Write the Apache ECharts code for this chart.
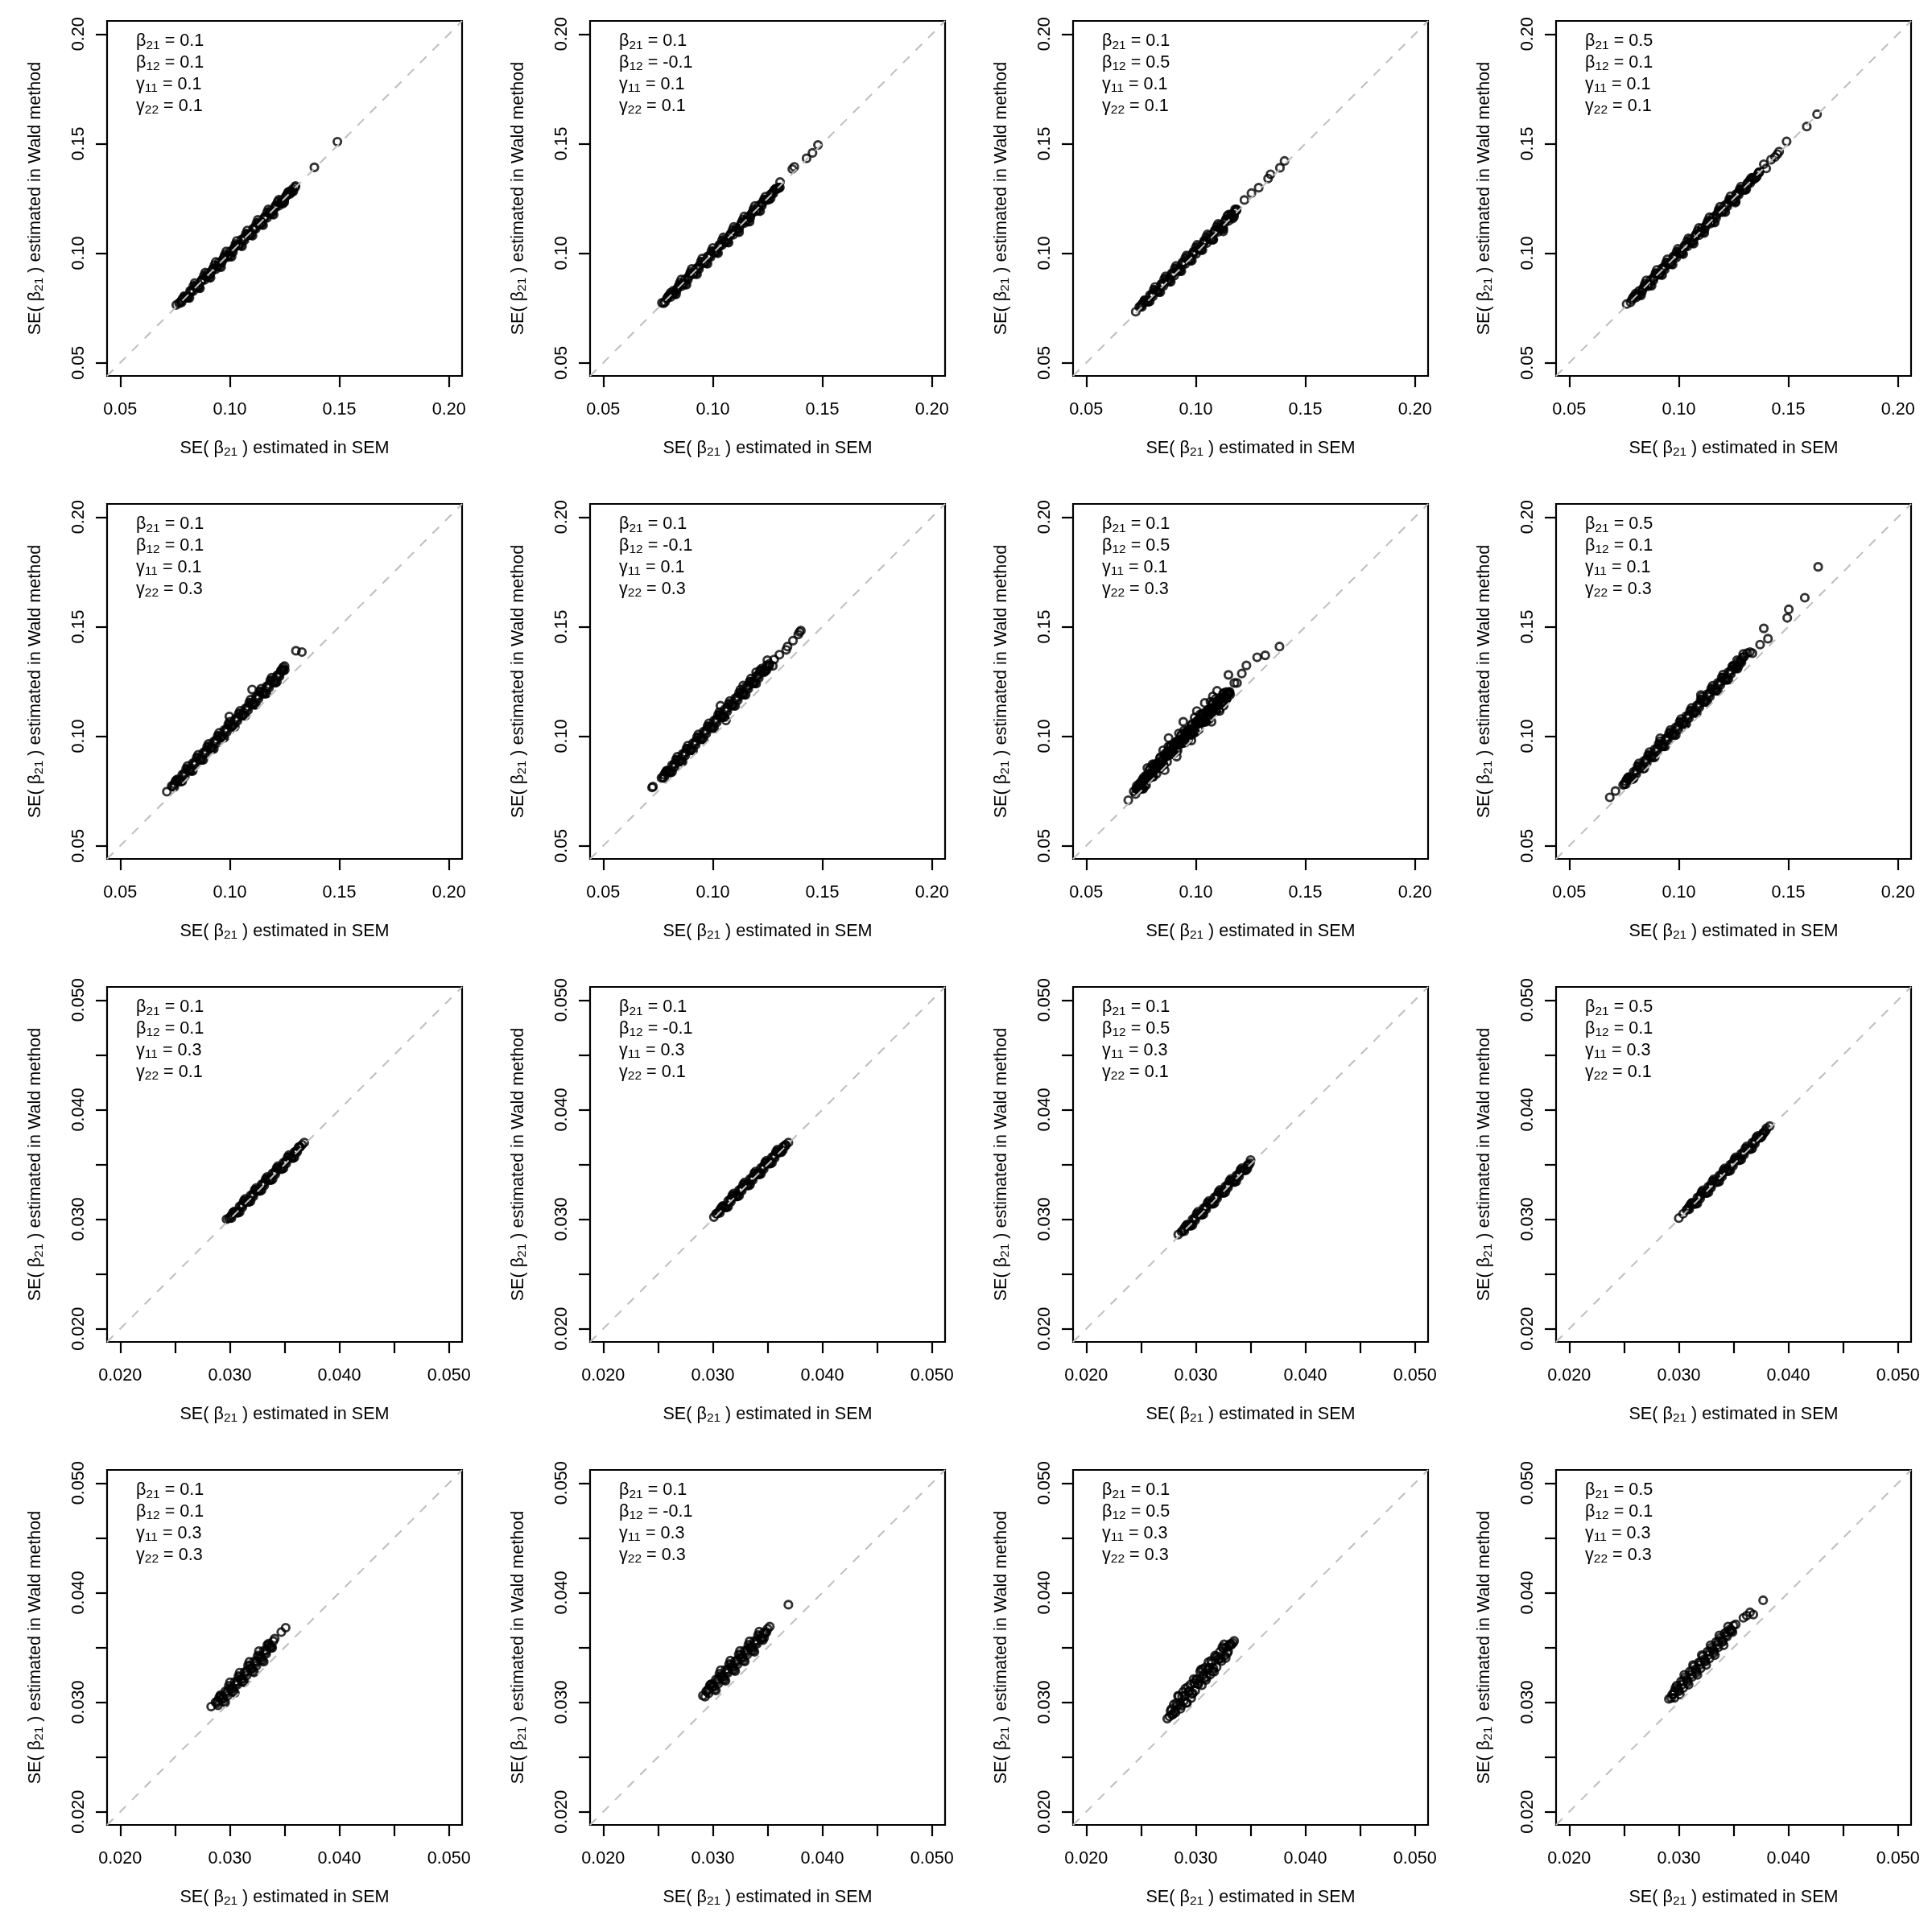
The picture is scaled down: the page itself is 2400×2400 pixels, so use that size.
<!DOCTYPE html>
<html><head><meta charset="utf-8">
<script src="https://cdn.jsdelivr.net/npm/echarts@6/dist/echarts.min.js"></script>
<style>html,body{margin:0;padding:0;background:#fff}#c{width:2400px;height:2400px}</style>
</head><body><div id="c"></div>
<script>
// ---------- parameters shown in each panel ----------
const beta21 = ['0.1', '0.1', '0.1', '0.5'];    // by column
const beta12 = ['0.1', '-0.1', '0.5', '0.1'];   // by column
const gamma11 = ['0.1', '0.1', '0.3', '0.3'];   // by row
const gamma22 = ['0.1', '0.3', '0.1', '0.3'];   // by row

// ---------- axis ranges and ticks ----------
const rangeWide = [0.044, 0.206];
const rangeNarrow = [0.0188, 0.0512];
const tickLabelsWide = [0.05, 0.10, 0.15, 0.20];
const tickMarksWide = [0.05, 0.10, 0.15, 0.20];
const tickLabelsNarrow = [0.020, 0.030, 0.040, 0.050];
const tickMarksNarrow = [0.020, 0.025, 0.030, 0.035, 0.040, 0.045, 0.050];

// ---------- data: [SE in SEM, SE in Wald] ----------
const p11 = [[0.0756,0.0764],[0.0768,0.0772],[0.0780,0.0775],[0.0794,0.0801],[0.0807,0.0799],[0.0819,0.0828],[0.0833,0.0827],[0.0846,0.0854],[0.0858,0.0849],[0.0872,0.0878],[0.0885,0.0878],[0.0897,0.0906],[0.0911,0.0903],[0.0924,0.0929],[0.0936,0.0927],[0.0950,0.0958],[0.0963,0.0957],[0.0975,0.0984],[0.0989,0.0982],[0.1002,0.1008],[0.1014,0.1005],[0.1028,0.1036],[0.1041,0.1036],[0.1053,0.1062],[0.1067,0.1059],[0.1080,0.1087],[0.1092,0.1083],[0.1106,0.1112],[0.1119,0.1112],[0.1131,0.1140],[0.1145,0.1137],[0.1158,0.1163],[0.1170,0.1161],[0.1184,0.1192],[0.1197,0.1191],[0.1209,0.1218],[0.1223,0.1216],[0.1236,0.1242],[0.1248,0.1240],[0.1262,0.1269],[0.1275,0.1270],[0.1287,0.1293],[0.1298,0.1301],[0.1300,0.1307],[0.1386,0.1392],[0.1491,0.1509]];
const e11 = [[0.0774,0.0776],[0.0798,0.0797],[0.0822,0.0823],[0.0846,0.0844],[0.0870,0.0872],[0.0894,0.0893],[0.0918,0.0919],[0.0942,0.0940],[0.0966,0.0968],[0.0990,0.0989],[0.1014,0.1015],[0.1038,0.1036],[0.1062,0.1064],[0.1086,0.1085],[0.1110,0.1111],[0.1134,0.1132],[0.1158,0.1160],[0.1182,0.1181],[0.1206,0.1207],[0.1230,0.1228],[0.1254,0.1256],[0.1278,0.1277],[0.0786,0.0794],[0.0810,0.0797],[0.0834,0.0850],[0.0858,0.0842],[0.0882,0.0898],[0.0906,0.0890],[0.0930,0.0946],[0.0954,0.0938],[0.0978,0.0994],[0.1002,0.0986],[0.1026,0.1042],[0.1050,0.1034],[0.1074,0.1090],[0.1098,0.1082],[0.1122,0.1138],[0.1146,0.1130],[0.1170,0.1186],[0.1194,0.1178],[0.1218,0.1234],[0.1242,0.1226],[0.1266,0.1278],[0.1290,0.1282]];
const f11 = [[0.0780,0.0785],[0.0804,0.0799],[0.0828,0.0833],[0.0852,0.0847],[0.0876,0.0881],[0.0900,0.0895],[0.0924,0.0929],[0.0948,0.0943],[0.0972,0.0977],[0.0996,0.0991],[0.1020,0.1025],[0.1044,0.1039],[0.1068,0.1073],[0.1092,0.1087],[0.1116,0.1121],[0.1140,0.1135],[0.1164,0.1169],[0.1188,0.1183],[0.1212,0.1217],[0.1236,0.1231],[0.1260,0.1265],[0.1284,0.1280],[0.0792,0.0804],[0.0816,0.0796],[0.0840,0.0864],[0.0864,0.0840],[0.0888,0.0912],[0.0912,0.0888],[0.0936,0.0960],[0.0960,0.0936],[0.0984,0.1008],[0.1008,0.0984],[0.1032,0.1056],[0.1056,0.1032],[0.1080,0.1104],[0.1104,0.1080],[0.1128,0.1152],[0.1152,0.1128],[0.1176,0.1200],[0.1200,0.1176],[0.1224,0.1244],[0.1248,0.1232],[0.1272,0.1282]];
const p12 = [[0.0768,0.0774],[0.0776,0.0772],[0.0782,0.0777],[0.0795,0.0801],[0.0808,0.0800],[0.0820,0.0829],[0.0834,0.0828],[0.0847,0.0855],[0.0859,0.0850],[0.0873,0.0880],[0.0886,0.0879],[0.0898,0.0907],[0.0912,0.0904],[0.0925,0.0931],[0.0937,0.0928],[0.0951,0.0959],[0.0964,0.0958],[0.0976,0.0985],[0.0990,0.0983],[0.1003,0.1010],[0.1015,0.1006],[0.1029,0.1037],[0.1042,0.1037],[0.1054,0.1063],[0.1068,0.1060],[0.1081,0.1088],[0.1093,0.1084],[0.1107,0.1113],[0.1120,0.1113],[0.1132,0.1141],[0.1146,0.1138],[0.1159,0.1164],[0.1171,0.1162],[0.1185,0.1193],[0.1198,0.1192],[0.1210,0.1218],[0.1224,0.1217],[0.1237,0.1243],[0.1249,0.1243],[0.1263,0.1268],[0.1276,0.1272],[0.1288,0.1293],[0.1302,0.1299],[0.1307,0.1325],[0.1363,0.1384],[0.1372,0.1394],[0.1428,0.1433],[0.1455,0.1458],[0.1480,0.1494]];
const e12 = [[0.0790,0.0792],[0.0814,0.0813],[0.0838,0.0839],[0.0862,0.0860],[0.0886,0.0888],[0.0910,0.0909],[0.0934,0.0935],[0.0958,0.0956],[0.0982,0.0984],[0.1006,0.1005],[0.1030,0.1031],[0.1054,0.1052],[0.1078,0.1080],[0.1102,0.1101],[0.1126,0.1127],[0.1150,0.1148],[0.1174,0.1176],[0.1198,0.1197],[0.1222,0.1223],[0.1246,0.1244],[0.1270,0.1272],[0.1294,0.1293],[0.0802,0.0810],[0.0826,0.0813],[0.0850,0.0866],[0.0874,0.0858],[0.0898,0.0914],[0.0922,0.0906],[0.0946,0.0962],[0.0970,0.0954],[0.0994,0.1010],[0.1018,0.1002],[0.1042,0.1058],[0.1066,0.1050],[0.1090,0.1106],[0.1114,0.1098],[0.1138,0.1154],[0.1162,0.1146],[0.1186,0.1202],[0.1210,0.1194],[0.1234,0.1246],[0.1258,0.1246],[0.1282,0.1290],[0.1306,0.1300]];
const f12 = [[0.0796,0.0801],[0.0820,0.0815],[0.0844,0.0849],[0.0868,0.0863],[0.0892,0.0897],[0.0916,0.0911],[0.0940,0.0945],[0.0964,0.0959],[0.0988,0.0993],[0.1012,0.1007],[0.1036,0.1041],[0.1060,0.1055],[0.1084,0.1089],[0.1108,0.1103],[0.1132,0.1137],[0.1156,0.1151],[0.1180,0.1185],[0.1204,0.1199],[0.1228,0.1233],[0.1252,0.1247],[0.1276,0.1281],[0.1300,0.1297],[0.0808,0.0820],[0.0832,0.0812],[0.0856,0.0880],[0.0880,0.0856],[0.0904,0.0928],[0.0928,0.0904],[0.0952,0.0976],[0.0976,0.0952],[0.1000,0.1024],[0.1024,0.1000],[0.1048,0.1072],[0.1072,0.1048],[0.1096,0.1120],[0.1120,0.1096],[0.1144,0.1168],[0.1168,0.1144],[0.1192,0.1216],[0.1216,0.1192],[0.1240,0.1258],[0.1264,0.1250],[0.1288,0.1296]];
const p13 = [[0.0726,0.0733],[0.0742,0.0755],[0.0754,0.0755],[0.0767,0.0784],[0.0779,0.0779],[0.0791,0.0809],[0.0804,0.0803],[0.0816,0.0832],[0.0828,0.0825],[0.0841,0.0858],[0.0853,0.0851],[0.0865,0.0884],[0.0878,0.0878],[0.0890,0.0908],[0.0902,0.0898],[0.0915,0.0932],[0.0927,0.0925],[0.0939,0.0958],[0.0952,0.0951],[0.0964,0.0984],[0.0976,0.0973],[0.0989,0.1006],[0.1001,0.0997],[0.1013,0.1031],[0.1026,0.1021],[0.1038,0.1057],[0.1050,0.1046],[0.1063,0.1080],[0.1075,0.1070],[0.1087,0.1105],[0.1100,0.1097],[0.1112,0.1128],[0.1124,0.1120],[0.1137,0.1154],[0.1149,0.1147],[0.1161,0.1177],[0.1174,0.1175],[0.1186,0.1200],[0.1080,0.1062],[0.1125,0.1100],[0.1179,0.1200],[0.1222,0.1243],[0.1254,0.1274],[0.1287,0.1299],[0.1330,0.1341],[0.1341,0.1360],[0.1384,0.1390],[0.1405,0.1421]];
const e13 = [[0.0748,0.0758],[0.0772,0.0779],[0.0796,0.0805],[0.0820,0.0826],[0.0844,0.0854],[0.0868,0.0875],[0.0892,0.0901],[0.0916,0.0922],[0.0940,0.0950],[0.0964,0.0971],[0.0988,0.0997],[0.1012,0.1018],[0.1036,0.1046],[0.1060,0.1067],[0.1084,0.1093],[0.1108,0.1114],[0.1132,0.1142],[0.1156,0.1163],[0.1180,0.1189],[0.0760,0.0774],[0.0784,0.0778],[0.0808,0.0834],[0.0832,0.0822],[0.0856,0.0882],[0.0880,0.0870],[0.0904,0.0930],[0.0928,0.0918],[0.0952,0.0978],[0.0976,0.0966],[0.1000,0.1026],[0.1024,0.1014],[0.1048,0.1074],[0.1072,0.1062],[0.1096,0.1122],[0.1120,0.1110],[0.1144,0.1170],[0.1168,0.1158]];
const f13 = [[0.0754,0.0767],[0.0778,0.0781],[0.0802,0.0815],[0.0826,0.0829],[0.0850,0.0863],[0.0874,0.0877],[0.0898,0.0911],[0.0922,0.0925],[0.0946,0.0959],[0.0970,0.0973],[0.0994,0.1007],[0.1018,0.1021],[0.1042,0.1055],[0.1066,0.1069],[0.1090,0.1103],[0.1114,0.1117],[0.1138,0.1151],[0.1162,0.1165],[0.1186,0.1196],[0.0766,0.0786],[0.0790,0.0780],[0.0814,0.0846],[0.0838,0.0822],[0.0862,0.0894],[0.0886,0.0870],[0.0910,0.0942],[0.0934,0.0918],[0.0958,0.0990],[0.0982,0.0966],[0.1006,0.1038],[0.1030,0.1014],[0.1054,0.1086],[0.1078,0.1062],[0.1102,0.1134],[0.1126,0.1110],[0.1150,0.1176],[0.1174,0.1166]];
const p14 = [[0.0762,0.0768],[0.0780,0.0776],[0.0793,0.0799],[0.0806,0.0798],[0.0819,0.0828],[0.0832,0.0825],[0.0845,0.0853],[0.0858,0.0849],[0.0871,0.0878],[0.0884,0.0876],[0.0897,0.0907],[0.0910,0.0901],[0.0923,0.0931],[0.0936,0.0926],[0.0949,0.0958],[0.0962,0.0955],[0.0975,0.0985],[0.0988,0.0979],[0.1001,0.1009],[0.1014,0.1004],[0.1027,0.1036],[0.1040,0.1032],[0.1053,0.1063],[0.1066,0.1057],[0.1079,0.1086],[0.1092,0.1082],[0.1105,0.1114],[0.1118,0.1110],[0.1131,0.1141],[0.1144,0.1135],[0.1157,0.1164],[0.1170,0.1160],[0.1183,0.1191],[0.1196,0.1187],[0.1209,0.1218],[0.1222,0.1214],[0.1235,0.1242],[0.1248,0.1239],[0.1261,0.1269],[0.1274,0.1267],[0.1287,0.1293],[0.1300,0.1292],[0.1313,0.1320],[0.1326,0.1320],[0.1339,0.1344],[0.1352,0.1347],[0.1366,0.1369],[0.1258,0.1231],[0.1388,0.1406],[0.1399,0.1387],[0.1421,0.1427],[0.1439,0.1439],[0.1450,0.1452],[0.1458,0.1464],[0.1492,0.1510],[0.1584,0.1578],[0.1631,0.1634]];
const e14 = [[0.0786,0.0788],[0.0810,0.0809],[0.0834,0.0835],[0.0858,0.0856],[0.0882,0.0884],[0.0906,0.0905],[0.0930,0.0931],[0.0954,0.0952],[0.0978,0.0980],[0.1002,0.1001],[0.1026,0.1027],[0.1050,0.1048],[0.1074,0.1076],[0.1098,0.1097],[0.1122,0.1123],[0.1146,0.1144],[0.1170,0.1172],[0.1194,0.1193],[0.1218,0.1219],[0.1242,0.1240],[0.1266,0.1268],[0.1290,0.1289],[0.1314,0.1315],[0.1338,0.1336],[0.1362,0.1364],[0.0798,0.0806],[0.0822,0.0809],[0.0846,0.0862],[0.0870,0.0854],[0.0894,0.0910],[0.0918,0.0902],[0.0942,0.0958],[0.0966,0.0950],[0.0990,0.1006],[0.1014,0.0998],[0.1038,0.1054],[0.1062,0.1046],[0.1086,0.1102],[0.1110,0.1094],[0.1134,0.1150],[0.1158,0.1142],[0.1182,0.1198],[0.1206,0.1190],[0.1230,0.1246],[0.1254,0.1238],[0.1278,0.1292],[0.1302,0.1288],[0.1326,0.1336],[0.1350,0.1344]];
const f14 = [[0.0792,0.0797],[0.0816,0.0811],[0.0840,0.0845],[0.0864,0.0859],[0.0888,0.0893],[0.0912,0.0907],[0.0936,0.0941],[0.0960,0.0955],[0.0984,0.0989],[0.1008,0.1003],[0.1032,0.1037],[0.1056,0.1051],[0.1080,0.1085],[0.1104,0.1099],[0.1128,0.1133],[0.1152,0.1147],[0.1176,0.1181],[0.1200,0.1195],[0.1224,0.1229],[0.1248,0.1243],[0.1272,0.1277],[0.1296,0.1291],[0.1320,0.1325],[0.1344,0.1339],[0.1368,0.1370],[0.0804,0.0816],[0.0828,0.0808],[0.0852,0.0876],[0.0876,0.0852],[0.0900,0.0924],[0.0924,0.0900],[0.0948,0.0972],[0.0972,0.0948],[0.0996,0.1020],[0.1020,0.0996],[0.1044,0.1068],[0.1068,0.1044],[0.1092,0.1116],[0.1116,0.1092],[0.1140,0.1164],[0.1164,0.1140],[0.1188,0.1212],[0.1212,0.1188],[0.1236,0.1260],[0.1260,0.1236],[0.1284,0.1304],[0.1308,0.1292],[0.1332,0.1344],[0.1356,0.1350]];

const p21 = [[0.0713,0.0747],[0.0735,0.0773],[0.0747,0.0768],[0.0759,0.0801],[0.0771,0.0794],[0.0783,0.0825],[0.0795,0.0817],[0.0807,0.0849],[0.0819,0.0843],[0.0831,0.0877],[0.0843,0.0869],[0.0855,0.0901],[0.0867,0.0892],[0.0879,0.0925],[0.0891,0.0919],[0.0903,0.0952],[0.0915,0.0945],[0.0927,0.0976],[0.0939,0.0968],[0.0951,0.1000],[0.0963,0.0994],[0.0975,0.1028],[0.0987,0.1020],[0.0999,0.1052],[0.1011,0.1043],[0.1023,0.1076],[0.1035,0.1070],[0.1047,0.1103],[0.1059,0.1096],[0.1071,0.1127],[0.1083,0.1119],[0.1095,0.1151],[0.1107,0.1145],[0.1119,0.1179],[0.1131,0.1171],[0.1143,0.1203],[0.1155,0.1194],[0.1167,0.1227],[0.1179,0.1221],[0.1191,0.1253],[0.1203,0.1247],[0.1215,0.1277],[0.1227,0.1273],[0.1239,0.1301],[0.1250,0.1320],[0.1243,0.1314],[0.1102,0.1213],[0.0998,0.1090],[0.1302,0.1390],[0.1329,0.1384]];
const e21 = [[0.0741,0.0771],[0.0765,0.0796],[0.0789,0.0823],[0.0813,0.0846],[0.0837,0.0873],[0.0861,0.0896],[0.0885,0.0923],[0.0909,0.0946],[0.0933,0.0974],[0.0957,0.0997],[0.0981,0.1024],[0.1005,0.1047],[0.1029,0.1074],[0.1053,0.1097],[0.1077,0.1125],[0.1101,0.1148],[0.1125,0.1175],[0.1149,0.1198],[0.1173,0.1225],[0.1197,0.1248],[0.1221,0.1276],[0.1245,0.1299],[0.0753,0.0796],[0.0777,0.0793],[0.0801,0.0852],[0.0825,0.0841],[0.0849,0.0903],[0.0873,0.0892],[0.0897,0.0953],[0.0921,0.0942],[0.0945,0.1003],[0.0969,0.0992],[0.0993,0.1054],[0.1017,0.1043],[0.1041,0.1104],[0.1065,0.1093],[0.1089,0.1154],[0.1113,0.1143],[0.1137,0.1205],[0.1161,0.1194],[0.1185,0.1255],[0.1209,0.1244],[0.1233,0.1299]];
const f21 = [[0.0747,0.0783],[0.0771,0.0798],[0.0795,0.0833],[0.0819,0.0848],[0.0843,0.0883],[0.0867,0.0898],[0.0891,0.0934],[0.0915,0.0949],[0.0939,0.0984],[0.0963,0.0999],[0.0987,0.1034],[0.1011,0.1049],[0.1035,0.1085],[0.1059,0.1100],[0.1083,0.1135],[0.1107,0.1150],[0.1131,0.1185],[0.1155,0.1200],[0.1179,0.1236],[0.1203,0.1251],[0.1227,0.1286],[0.1251,0.1303],[0.0759,0.0802],[0.0783,0.0795],[0.0807,0.0864],[0.0831,0.0842],[0.0855,0.0915],[0.0879,0.0892],[0.0903,0.0965],[0.0927,0.0942],[0.0951,0.1015],[0.0975,0.0993],[0.0999,0.1066],[0.1023,0.1043],[0.1047,0.1116],[0.1071,0.1093],[0.1095,0.1167],[0.1119,0.1144],[0.1143,0.1217],[0.1167,0.1194],[0.1191,0.1267],[0.1215,0.1248],[0.1239,0.1304]];
const p22 = [[0.0723,0.0766],[0.0727,0.0770],[0.0766,0.0810],[0.0778,0.0809],[0.0790,0.0842],[0.0802,0.0834],[0.0814,0.0868],[0.0826,0.0859],[0.0838,0.0892],[0.0850,0.0884],[0.0862,0.0919],[0.0874,0.0911],[0.0886,0.0944],[0.0898,0.0935],[0.0910,0.0969],[0.0922,0.0961],[0.0934,0.0995],[0.0946,0.0987],[0.0958,0.1021],[0.0970,0.1011],[0.0982,0.1045],[0.0994,0.1037],[0.1006,0.1072],[0.1018,0.1063],[0.1030,0.1097],[0.1042,0.1088],[0.1054,0.1122],[0.1066,0.1113],[0.1078,0.1148],[0.1090,0.1140],[0.1102,0.1173],[0.1114,0.1164],[0.1126,0.1198],[0.1138,0.1190],[0.1150,0.1224],[0.1162,0.1216],[0.1174,0.1250],[0.1186,0.1241],[0.1198,0.1274],[0.1210,0.1266],[0.1222,0.1300],[0.1234,0.1292],[0.1246,0.1323],[0.1258,0.1322],[0.1035,0.1139],[0.1060,0.1072],[0.1139,0.1231],[0.1198,0.1292],[0.1274,0.1321],[0.1249,0.1347],[0.1280,0.1350],[0.1304,0.1372],[0.1335,0.1394],[0.1341,0.1409],[0.1366,0.1436],[0.1390,0.1464],[0.1396,0.1476],[0.1402,0.1482]];
const e22 = [[0.0772,0.0812],[0.0796,0.0838],[0.0820,0.0863],[0.0844,0.0889],[0.0868,0.0914],[0.0892,0.0940],[0.0916,0.0965],[0.0940,0.0991],[0.0964,0.1016],[0.0988,0.1041],[0.1012,0.1067],[0.1036,0.1092],[0.1060,0.1118],[0.1084,0.1143],[0.1108,0.1169],[0.1132,0.1194],[0.1156,0.1220],[0.1180,0.1245],[0.1204,0.1271],[0.1228,0.1296],[0.1252,0.1322],[0.0784,0.0835],[0.0808,0.0834],[0.0832,0.0893],[0.0856,0.0884],[0.0880,0.0944],[0.0904,0.0935],[0.0928,0.0995],[0.0952,0.0986],[0.0976,0.1046],[0.1000,0.1037],[0.1024,0.1097],[0.1048,0.1088],[0.1072,0.1148],[0.1096,0.1139],[0.1120,0.1198],[0.1144,0.1190],[0.1168,0.1249],[0.1192,0.1241],[0.1216,0.1300],[0.1240,0.1297]];
const f22 = [[0.0778,0.0824],[0.0802,0.0839],[0.0826,0.0875],[0.0850,0.0890],[0.0874,0.0926],[0.0898,0.0941],[0.0922,0.0976],[0.0946,0.0992],[0.0970,0.1027],[0.0994,0.1043],[0.1018,0.1078],[0.1042,0.1094],[0.1066,0.1129],[0.1090,0.1145],[0.1114,0.1180],[0.1138,0.1196],[0.1162,0.1231],[0.1186,0.1246],[0.1210,0.1282],[0.1234,0.1297],[0.1258,0.1330],[0.0790,0.0843],[0.0814,0.0837],[0.0838,0.0906],[0.0862,0.0884],[0.0886,0.0957],[0.0910,0.0935],[0.0934,0.1008],[0.0958,0.0986],[0.0982,0.1059],[0.1006,0.1037],[0.1030,0.1110],[0.1054,0.1087],[0.1078,0.1161],[0.1102,0.1138],[0.1126,0.1212],[0.1150,0.1189],[0.1174,0.1263],[0.1198,0.1240],[0.1222,0.1308],[0.1246,0.1303]];
const p23 = [[0.0725,0.0736],[0.0731,0.0762],[0.0737,0.0758],[0.0743,0.0784],[0.0749,0.0777],[0.0755,0.0764],[0.0761,0.0810],[0.0767,0.0802],[0.0773,0.0776],[0.0779,0.0820],[0.0785,0.0807],[0.0791,0.0852],[0.0797,0.0830],[0.0803,0.0817],[0.0809,0.0864],[0.0815,0.0856],[0.0821,0.0829],[0.0827,0.0874],[0.0833,0.0861],[0.0839,0.0905],[0.0845,0.0884],[0.0851,0.0871],[0.0857,0.0917],[0.0863,0.0909],[0.0869,0.0883],[0.0875,0.0928],[0.0881,0.0914],[0.0887,0.0959],[0.0893,0.0938],[0.0899,0.0924],[0.0905,0.0970],[0.0911,0.0961],[0.0917,0.0934],[0.0923,0.0978],[0.0929,0.0964],[0.0935,0.1008],[0.0941,0.0986],[0.0947,0.0972],[0.0953,0.1018],[0.0959,0.1009],[0.0965,0.0982],[0.0971,0.1026],[0.0977,0.1012],[0.0983,0.1056],[0.0989,0.1034],[0.0995,0.1020],[0.1001,0.1066],[0.1007,0.1057],[0.1013,0.1030],[0.1019,0.1074],[0.1025,0.1060],[0.1031,0.1104],[0.1037,0.1082],[0.1043,0.1068],[0.1049,0.1114],[0.1055,0.1105],[0.1061,0.1078],[0.1067,0.1122],[0.1073,0.1108],[0.1079,0.1152],[0.1085,0.1130],[0.1091,0.1116],[0.1097,0.1162],[0.1103,0.1152],[0.1109,0.1125],[0.1115,0.1168],[0.1121,0.1154],[0.1127,0.1197],[0.1133,0.1175],[0.1139,0.1170],[0.1145,0.1196],[0.1151,0.1193],[0.1157,0.1190],[0.0692,0.0708],[0.0717,0.0748],[0.0760,0.0760],[0.0808,0.0870],[0.0858,0.0845],[0.0876,0.0992],[0.0913,0.0907],[0.0943,0.1066],[0.0980,0.0980],[0.1005,0.1115],[0.1041,0.1152],[0.1072,0.1066],[0.1078,0.1182],[0.1097,0.1207],[0.1109,0.1115],[0.1127,0.1139],[0.1152,0.1200],[0.1176,0.1243],[0.1188,0.1243],[0.1149,0.1280],[0.1210,0.1286],[0.1231,0.1323],[0.1280,0.1360],[0.1317,0.1369],[0.1382,0.1409]];
const e23 = [[0.0728,0.0761],[0.0734,0.0757],[0.0740,0.0778],[0.0746,0.0758],[0.0752,0.0788],[0.0758,0.0762],[0.0764,0.0796],[0.0770,0.0818],[0.0776,0.0822],[0.0782,0.0808],[0.0788,0.0845],[0.0794,0.0812],[0.0800,0.0841],[0.0806,0.0815],[0.0812,0.0850],[0.0818,0.0872],[0.0824,0.0875],[0.0830,0.0862],[0.0836,0.0899],[0.0842,0.0865],[0.0848,0.0895],[0.0854,0.0869],[0.0860,0.0903],[0.0866,0.0925],[0.0872,0.0929],[0.0878,0.0916],[0.0884,0.0952],[0.0890,0.0919],[0.0896,0.0949],[0.0902,0.0922],[0.0908,0.0956],[0.0914,0.0977],[0.0920,0.0980],[0.0926,0.0966],[0.0932,0.1002],[0.0938,0.0968],[0.0944,0.0997],[0.0950,0.0970],[0.0956,0.1004],[0.0962,0.1025],[0.0968,0.1028],[0.0974,0.1014],[0.0980,0.1050],[0.0986,0.1016],[0.0992,0.1045],[0.0998,0.1018],[0.1004,0.1052],[0.1010,0.1073],[0.1016,0.1076],[0.1022,0.1062],[0.1028,0.1098],[0.1034,0.1064],[0.1040,0.1093],[0.1046,0.1066],[0.1052,0.1100],[0.1058,0.1121],[0.1064,0.1124],[0.1070,0.1110],[0.1076,0.1146],[0.1082,0.1112],[0.1088,0.1141],[0.1094,0.1114],[0.1100,0.1148],[0.1106,0.1168],[0.1112,0.1171],[0.1118,0.1156],[0.1124,0.1192],[0.1130,0.1157],[0.1136,0.1186],[0.1142,0.1171],[0.1148,0.1191],[0.1154,0.1203]];
const f23 = [[0.0731,0.0774],[0.0743,0.0765],[0.0755,0.0799],[0.0767,0.0775],[0.0779,0.0855],[0.0791,0.0829],[0.0803,0.0872],[0.0815,0.0846],[0.0827,0.0879],[0.0839,0.0855],[0.0851,0.0936],[0.0863,0.0909],[0.0875,0.0953],[0.0887,0.0926],[0.0899,0.0959],[0.0911,0.0934],[0.0923,0.1013],[0.0935,0.0985],[0.0947,0.1027],[0.0959,0.0999],[0.0971,0.1031],[0.0983,0.1006],[0.0995,0.1085],[0.1007,0.1057],[0.1019,0.1099],[0.1031,0.1071],[0.1043,0.1103],[0.1055,0.1078],[0.1067,0.1157],[0.1079,0.1129],[0.1091,0.1171],[0.1103,0.1142],[0.1115,0.1173],[0.1127,0.1147],[0.1139,0.1202],[0.1151,0.1196]];
const p24 = [[0.0685,0.0721],[0.0711,0.0750],[0.0746,0.0778],[0.0758,0.0781],[0.0770,0.0812],[0.0782,0.0802],[0.0794,0.0837],[0.0806,0.0828],[0.0818,0.0864],[0.0830,0.0855],[0.0842,0.0888],[0.0854,0.0878],[0.0866,0.0913],[0.0878,0.0904],[0.0890,0.0940],[0.0902,0.0930],[0.0914,0.0964],[0.0926,0.0954],[0.0938,0.0988],[0.0950,0.0980],[0.0962,0.1016],[0.0974,0.1006],[0.0986,0.1040],[0.0998,0.1030],[0.1010,0.1064],[0.1022,0.1056],[0.1034,0.1092],[0.1046,0.1082],[0.1058,0.1116],[0.1070,0.1106],[0.1082,0.1140],[0.1094,0.1132],[0.1106,0.1168],[0.1118,0.1158],[0.1130,0.1192],[0.1142,0.1181],[0.1154,0.1216],[0.1166,0.1208],[0.1178,0.1243],[0.1190,0.1234],[0.1202,0.1268],[0.1214,0.1257],[0.1226,0.1292],[0.1238,0.1284],[0.1250,0.1319],[0.1262,0.1310],[0.1274,0.1342],[0.1286,0.1337],[0.1298,0.1363],[0.0915,0.0991],[0.1101,0.1188],[0.1266,0.1347],[0.1294,0.1375],[0.1312,0.1379],[0.1325,0.1384],[0.1336,0.1379],[0.1371,0.1418],[0.1388,0.1492],[0.1407,0.1445],[0.1495,0.1540],[0.1502,0.1579],[0.1575,0.1632],[0.1636,0.1773]];
const e24 = [[0.0752,0.0782],[0.0776,0.0808],[0.0800,0.0833],[0.0824,0.0858],[0.0848,0.0884],[0.0872,0.0909],[0.0896,0.0934],[0.0920,0.0959],[0.0944,0.0985],[0.0968,0.1010],[0.0992,0.1035],[0.1016,0.1061],[0.1040,0.1086],[0.1064,0.1111],[0.1088,0.1137],[0.1112,0.1162],[0.1136,0.1187],[0.1160,0.1212],[0.1184,0.1238],[0.1208,0.1263],[0.1232,0.1288],[0.1256,0.1314],[0.1280,0.1339],[0.0764,0.0805],[0.0788,0.0804],[0.0812,0.0864],[0.0836,0.0853],[0.0860,0.0914],[0.0884,0.0903],[0.0908,0.0965],[0.0932,0.0954],[0.0956,0.1015],[0.0980,0.1005],[0.1004,0.1066],[0.1028,0.1055],[0.1052,0.1117],[0.1076,0.1106],[0.1100,0.1167],[0.1124,0.1156],[0.1148,0.1218],[0.1172,0.1207],[0.1196,0.1268],[0.1220,0.1258],[0.1244,0.1319],[0.1268,0.1308],[0.1292,0.1360]];
const f24 = [[0.0758,0.0794],[0.0782,0.0809],[0.0806,0.0844],[0.0830,0.0860],[0.0854,0.0895],[0.0878,0.0910],[0.0902,0.0945],[0.0926,0.0961],[0.0950,0.0996],[0.0974,0.1011],[0.0998,0.1047],[0.1022,0.1062],[0.1046,0.1097],[0.1070,0.1113],[0.1094,0.1148],[0.1118,0.1163],[0.1142,0.1198],[0.1166,0.1214],[0.1190,0.1249],[0.1214,0.1264],[0.1238,0.1300],[0.1262,0.1315],[0.1286,0.1348],[0.0770,0.0813],[0.0794,0.0807],[0.0818,0.0876],[0.0842,0.0853],[0.0866,0.0927],[0.0890,0.0904],[0.0914,0.0977],[0.0938,0.0954],[0.0962,0.1028],[0.0986,0.1005],[0.1010,0.1078],[0.1034,0.1056],[0.1058,0.1129],[0.1082,0.1106],[0.1106,0.1180],[0.1130,0.1157],[0.1154,0.1230],[0.1178,0.1207],[0.1202,0.1281],[0.1226,0.1258],[0.1250,0.1323],[0.1274,0.1323]];

const p31 = [[0.0297,0.0300],[0.02990,0.03008],[0.03015,0.03010],[0.03040,0.03066],[0.03065,0.03058],[0.03090,0.03118],[0.03115,0.03109],[0.03140,0.03167],[0.03165,0.03157],[0.03190,0.03216],[0.03215,0.03208],[0.03240,0.03268],[0.03265,0.03259],[0.03290,0.03317],[0.03315,0.03307],[0.03340,0.03366],[0.03365,0.03358],[0.03390,0.03418],[0.03415,0.03409],[0.03440,0.03467],[0.03465,0.03457],[0.03490,0.03516],[0.03515,0.03508],[0.03540,0.03566],[0.03565,0.03560],[0.03590,0.03613],[0.03615,0.03613],[0.03640,0.03658],[0.0366,0.0368],[0.0368,0.0370]];
const e31 = [[0.03003,0.03015],[0.03053,0.03061],[0.03103,0.03115],[0.03153,0.03161],[0.03203,0.03215],[0.03253,0.03261],[0.03303,0.03315],[0.03353,0.03361],[0.03403,0.03415],[0.03453,0.03461],[0.03503,0.03515],[0.03553,0.03561],[0.03603,0.03615],[0.03028,0.03058],[0.03078,0.03060],[0.03128,0.03168],[0.03178,0.03158],[0.03228,0.03268],[0.03278,0.03258],[0.03328,0.03368],[0.03378,0.03358],[0.03428,0.03468],[0.03478,0.03458],[0.03528,0.03568],[0.03578,0.03558],[0.03628,0.03658]];
const f31 = [[0.03015,0.03035],[0.03065,0.03065],[0.03115,0.03135],[0.03165,0.03165],[0.03215,0.03235],[0.03265,0.03265],[0.03315,0.03335],[0.03365,0.03365],[0.03415,0.03435],[0.03465,0.03465],[0.03515,0.03535],[0.03565,0.03565],[0.03615,0.03630],[0.03040,0.03070],[0.03090,0.03065],[0.03140,0.03185],[0.03190,0.03165],[0.03240,0.03285],[0.03290,0.03265],[0.03340,0.03385],[0.03390,0.03365],[0.03440,0.03485],[0.03490,0.03465],[0.03540,0.03585],[0.03590,0.03565],[0.03640,0.03660]];
const p32 = [[0.0301,0.0302],[0.0303,0.0305],[0.03040,0.03052],[0.03065,0.03058],[0.03090,0.03116],[0.03115,0.03108],[0.03140,0.03168],[0.03165,0.03158],[0.03190,0.03217],[0.03215,0.03207],[0.03240,0.03266],[0.03265,0.03259],[0.03290,0.03318],[0.03315,0.03308],[0.03340,0.03367],[0.03365,0.03357],[0.03390,0.03416],[0.03415,0.03409],[0.03440,0.03468],[0.03465,0.03458],[0.03490,0.03517],[0.03515,0.03507],[0.03540,0.03566],[0.03565,0.03559],[0.03590,0.03616],[0.03615,0.03610],[0.03640,0.03660],[0.03665,0.03672],[0.0369,0.0370]];
const e32 = [[0.03053,0.03065],[0.03103,0.03111],[0.03153,0.03165],[0.03203,0.03211],[0.03253,0.03265],[0.03303,0.03311],[0.03353,0.03365],[0.03403,0.03411],[0.03453,0.03465],[0.03503,0.03511],[0.03553,0.03565],[0.03603,0.03611],[0.03653,0.03665],[0.03078,0.03105],[0.03128,0.03108],[0.03178,0.03218],[0.03228,0.03208],[0.03278,0.03318],[0.03328,0.03308],[0.03378,0.03418],[0.03428,0.03408],[0.03478,0.03518],[0.03528,0.03508],[0.03578,0.03618],[0.03628,0.03613]];
const f32 = [[0.03065,0.03085],[0.03115,0.03115],[0.03165,0.03185],[0.03215,0.03215],[0.03265,0.03285],[0.03315,0.03315],[0.03365,0.03385],[0.03415,0.03415],[0.03465,0.03485],[0.03515,0.03515],[0.03565,0.03585],[0.03615,0.03615],[0.03665,0.03680],[0.03090,0.03120],[0.03140,0.03115],[0.03190,0.03235],[0.03240,0.03215],[0.03290,0.03335],[0.03340,0.03315],[0.03390,0.03435],[0.03440,0.03415],[0.03490,0.03535],[0.03540,0.03515],[0.03590,0.03635],[0.03640,0.03630]];
const p33 = [[0.0284,0.0286],[0.02870,0.02886],[0.02895,0.02891],[0.02920,0.02948],[0.02945,0.02940],[0.02970,0.02999],[0.02995,0.02990],[0.03020,0.03048],[0.03045,0.03040],[0.03070,0.03099],[0.03095,0.03090],[0.03120,0.03148],[0.03145,0.03140],[0.03170,0.03199],[0.03195,0.03190],[0.03220,0.03248],[0.03245,0.03240],[0.03270,0.03299],[0.03295,0.03290],[0.03320,0.03348],[0.03345,0.03340],[0.03370,0.03398],[0.03395,0.03390],[0.03420,0.03446],[0.03445,0.03448],[0.03470,0.03490],[0.0348,0.0350],[0.0350,0.0354]];
const e33 = [[0.02883,0.02897],[0.02933,0.02943],[0.02983,0.02997],[0.03033,0.03043],[0.03083,0.03097],[0.03133,0.03143],[0.03183,0.03197],[0.03233,0.03243],[0.03283,0.03297],[0.03333,0.03343],[0.03383,0.03397],[0.03433,0.03443],[0.03483,0.03495],[0.02908,0.02935],[0.02958,0.02940],[0.03008,0.03050],[0.03058,0.03040],[0.03108,0.03150],[0.03158,0.03140],[0.03208,0.03250],[0.03258,0.03240],[0.03308,0.03350],[0.03358,0.03340],[0.03408,0.03450],[0.03458,0.03448]];
const f33 = [[0.02895,0.02917],[0.02945,0.02947],[0.02995,0.03017],[0.03045,0.03047],[0.03095,0.03117],[0.03145,0.03147],[0.03195,0.03217],[0.03245,0.03247],[0.03295,0.03317],[0.03345,0.03347],[0.03395,0.03417],[0.03445,0.03447],[0.03495,0.03512],[0.02920,0.02950],[0.02970,0.02947],[0.03020,0.03067],[0.03070,0.03047],[0.03120,0.03167],[0.03170,0.03147],[0.03220,0.03267],[0.03270,0.03247],[0.03320,0.03367],[0.03370,0.03347],[0.03420,0.03467],[0.03470,0.03460]];
const p34 = [[0.0300,0.0301],[0.0304,0.0305],[0.03070,0.03085],[0.03095,0.03090],[0.03120,0.03147],[0.03145,0.03138],[0.03170,0.03198],[0.03195,0.03188],[0.03220,0.03247],[0.03245,0.03238],[0.03270,0.03298],[0.03295,0.03288],[0.03320,0.03347],[0.03345,0.03338],[0.03370,0.03398],[0.03395,0.03388],[0.03420,0.03447],[0.03445,0.03438],[0.03470,0.03498],[0.03495,0.03488],[0.03520,0.03547],[0.03545,0.03538],[0.03570,0.03598],[0.03595,0.03588],[0.03620,0.03647],[0.03645,0.03638],[0.03670,0.03697],[0.03695,0.03690],[0.03720,0.03744],[0.03745,0.03745],[0.03770,0.03788],[0.0380,0.0383],[0.0383,0.0385]];
const e34 = [[0.03083,0.03095],[0.03133,0.03141],[0.03183,0.03195],[0.03233,0.03241],[0.03283,0.03295],[0.03333,0.03341],[0.03383,0.03395],[0.03433,0.03441],[0.03483,0.03495],[0.03533,0.03541],[0.03583,0.03595],[0.03633,0.03641],[0.03683,0.03695],[0.03733,0.03741],[0.03783,0.03795],[0.03108,0.03135],[0.03158,0.03140],[0.03208,0.03248],[0.03258,0.03240],[0.03308,0.03348],[0.03358,0.03340],[0.03408,0.03448],[0.03458,0.03440],[0.03508,0.03548],[0.03558,0.03540],[0.03608,0.03648],[0.03658,0.03640],[0.03708,0.03745],[0.03758,0.03755]];
const f34 = [[0.03095,0.03115],[0.03145,0.03145],[0.03195,0.03215],[0.03245,0.03245],[0.03295,0.03315],[0.03345,0.03345],[0.03395,0.03415],[0.03445,0.03445],[0.03495,0.03515],[0.03545,0.03545],[0.03595,0.03615],[0.03645,0.03645],[0.03695,0.03715],[0.03745,0.03745],[0.03795,0.03810],[0.03120,0.03150],[0.03170,0.03145],[0.03220,0.03265],[0.03270,0.03245],[0.03320,0.03365],[0.03370,0.03345],[0.03420,0.03465],[0.03470,0.03445],[0.03520,0.03565],[0.03570,0.03545],[0.03620,0.03665],[0.03670,0.03645],[0.03720,0.03760],[0.03770,0.03780]];

const p41 = [[0.0283,0.0296],[0.02870,0.03000],[0.02892,0.02972],[0.02914,0.03054],[0.02936,0.03026],[0.02958,0.03098],[0.02980,0.03060],[0.03002,0.03132],[0.03024,0.03104],[0.03046,0.03186],[0.03068,0.03158],[0.03090,0.03230],[0.03112,0.03192],[0.03134,0.03274],[0.03156,0.03246],[0.03178,0.03328],[0.03200,0.03300],[0.03222,0.03372],[0.03244,0.03334],[0.03266,0.03416],[0.03288,0.03388],[0.03310,0.03470],[0.03332,0.03442],[0.03354,0.03514],[0.03376,0.03496],[0.03398,0.03558],[0.0341,0.0358],[0.0347,0.0364],[0.0351,0.0368]];
const e41 = [[0.02881,0.02991],[0.02925,0.03035],[0.02969,0.03079],[0.03013,0.03123],[0.03057,0.03167],[0.03101,0.03211],[0.03145,0.03265],[0.03189,0.03309],[0.03233,0.03353],[0.03277,0.03407],[0.03321,0.03451],[0.03365,0.03505],[0.02903,0.03043],[0.02947,0.03007],[0.02991,0.03151],[0.03035,0.03095],[0.03079,0.03239],[0.03123,0.03183],[0.03167,0.03337],[0.03211,0.03281],[0.03255,0.03425],[0.03299,0.03379],[0.03343,0.03523],[0.03387,0.03497]];
const f41 = [[0.02892,0.03012],[0.02936,0.03036],[0.02980,0.03100],[0.03024,0.03124],[0.03068,0.03188],[0.03112,0.03212],[0.03156,0.03286],[0.03200,0.03310],[0.03244,0.03374],[0.03288,0.03408],[0.03332,0.03472],[0.03376,0.03506],[0.02914,0.03064],[0.02958,0.02998],[0.03002,0.03182],[0.03046,0.03086],[0.03090,0.03270],[0.03134,0.03184],[0.03178,0.03368],[0.03222,0.03272],[0.03266,0.03466],[0.03310,0.03370],[0.03354,0.03534]];
const p42 = [[0.0291,0.0306],[0.0293,0.0305],[0.02940,0.03100],[0.02962,0.03082],[0.02984,0.03164],[0.03006,0.03136],[0.03028,0.03208],[0.03050,0.03170],[0.03072,0.03242],[0.03094,0.03214],[0.03116,0.03296],[0.03138,0.03268],[0.03160,0.03340],[0.03182,0.03302],[0.03204,0.03374],[0.03226,0.03346],[0.03248,0.03428],[0.03270,0.03400],[0.03292,0.03472],[0.03314,0.03434],[0.03336,0.03506],[0.03358,0.03478],[0.03380,0.03560],[0.03402,0.03532],[0.03424,0.03604],[0.03446,0.03576],[0.03468,0.03638],[0.03490,0.03640],[0.0350,0.0367],[0.0352,0.0369],[0.0369,0.0389]];
const e42 = [[0.02951,0.03101],[0.02995,0.03145],[0.03039,0.03189],[0.03083,0.03233],[0.03127,0.03277],[0.03171,0.03321],[0.03215,0.03365],[0.03259,0.03409],[0.03303,0.03453],[0.03347,0.03497],[0.03391,0.03541],[0.03435,0.03585],[0.03479,0.03629],[0.02973,0.03153],[0.03017,0.03117],[0.03061,0.03261],[0.03105,0.03205],[0.03149,0.03349],[0.03193,0.03293],[0.03237,0.03437],[0.03281,0.03381],[0.03325,0.03525],[0.03369,0.03469],[0.03413,0.03613],[0.03457,0.03567]];
const f42 = [[0.02962,0.03122],[0.03006,0.03146],[0.03050,0.03210],[0.03094,0.03234],[0.03138,0.03298],[0.03182,0.03322],[0.03226,0.03386],[0.03270,0.03410],[0.03314,0.03474],[0.03358,0.03498],[0.03402,0.03562],[0.03446,0.03586],[0.02984,0.03164],[0.03028,0.03108],[0.03072,0.03292],[0.03116,0.03196],[0.03160,0.03380],[0.03204,0.03284],[0.03248,0.03468],[0.03292,0.03372],[0.03336,0.03556],[0.03380,0.03460],[0.03424,0.03644],[0.03468,0.03588]];
const p43 = [[0.0274,0.0285],[0.0276,0.0287],[0.02770,0.02920],[0.02785,0.02885],[0.02800,0.02980],[0.02815,0.02905],[0.02830,0.02970],[0.02845,0.03055],[0.02860,0.02940],[0.02875,0.03055],[0.02890,0.03010],[0.02905,0.03125],[0.02920,0.02995],[0.02935,0.03095],[0.02950,0.03160],[0.02965,0.03075],[0.02980,0.03210],[0.02995,0.03105],[0.03010,0.03210],[0.03025,0.03165],[0.03040,0.03280],[0.03055,0.03155],[0.03070,0.03250],[0.03085,0.03315],[0.03100,0.03230],[0.03115,0.03365],[0.03130,0.03250],[0.03145,0.03355],[0.03160,0.03310],[0.03175,0.03425],[0.03190,0.03320],[0.03205,0.03395],[0.03220,0.03460],[0.03235,0.03375],[0.03250,0.03490],[0.03265,0.03425],[0.03280,0.03500],[0.03295,0.03465],[0.03310,0.03530],[0.03325,0.03525],[0.0334,0.0354],[0.0335,0.0356]];
const e43 = [[0.02778,0.02938],[0.02808,0.02918],[0.02838,0.03058],[0.02868,0.02968],[0.02898,0.03058],[0.02928,0.03138],[0.02958,0.03038],[0.02988,0.03178],[0.03018,0.03168],[0.03048,0.03298],[0.03078,0.03218],[0.03108,0.03298],[0.03138,0.03378],[0.03168,0.03278],[0.03198,0.03418],[0.03228,0.03398],[0.03258,0.03528],[0.03288,0.03448],[0.03318,0.03528]];
const f43 = [[0.02793,0.02893],[0.02823,0.02993],[0.02853,0.02983],[0.02883,0.03093],[0.02913,0.02993],[0.02943,0.03103],[0.02973,0.03083],[0.03003,0.03203],[0.03033,0.03193],[0.03063,0.03303],[0.03093,0.03203],[0.03123,0.03313],[0.03153,0.03283],[0.03183,0.03413],[0.03213,0.03393],[0.03243,0.03503],[0.03273,0.03403],[0.03303,0.03513]];
const p44 = [[0.0291,0.0303],[0.0293,0.0304],[0.02940,0.03070],[0.02960,0.03040],[0.02980,0.03150],[0.03000,0.03100],[0.03020,0.03190],[0.03040,0.03130],[0.03060,0.03230],[0.03080,0.03180],[0.03100,0.03280],[0.03120,0.03230],[0.03140,0.03330],[0.03160,0.03270],[0.03180,0.03360],[0.03200,0.03310],[0.03220,0.03420],[0.03240,0.03370],[0.03260,0.03460],[0.03280,0.03400],[0.03300,0.03500],[0.03320,0.03450],[0.03340,0.03550],[0.03360,0.03500],[0.03380,0.03590],[0.03400,0.03550],[0.03420,0.03630],[0.03440,0.03600],[0.03460,0.03660],[0.03480,0.03660],[0.03500,0.03700],[0.0352,0.0371],[0.0359,0.0377],[0.0362,0.0379],[0.0365,0.0382],[0.0368,0.0380],[0.0377,0.0393]];
const e44 = [[0.02950,0.03072],[0.02990,0.03120],[0.03030,0.03160],[0.03070,0.03210],[0.03110,0.03250],[0.03150,0.03300],[0.03190,0.03340],[0.03230,0.03390],[0.03270,0.03430],[0.03310,0.03480],[0.03350,0.03520],[0.03390,0.03570],[0.03430,0.03610],[0.03470,0.03650],[0.02970,0.03130],[0.03010,0.03070],[0.03050,0.03250],[0.03090,0.03160],[0.03130,0.03340],[0.03170,0.03250],[0.03210,0.03430],[0.03250,0.03340],[0.03290,0.03520],[0.03330,0.03430],[0.03370,0.03610],[0.03410,0.03520],[0.03450,0.03690],[0.03490,0.03640]];
const f44 = [[0.02960,0.03100],[0.03000,0.03110],[0.03040,0.03190],[0.03080,0.03200],[0.03120,0.03280],[0.03160,0.03290],[0.03200,0.03370],[0.03240,0.03380],[0.03280,0.03460],[0.03320,0.03470],[0.03360,0.03550],[0.03400,0.03560],[0.03440,0.03640],[0.03480,0.03650]];

const panels = [
  [p11.concat(e11, f11), p12.concat(e12, f12), p13.concat(e13, f13), p14.concat(e14, f14)],
  [p21.concat(e21, f21), p22.concat(e22, f22), p23.concat(e23, f23), p24.concat(e24, f24)],
  [p31.concat(e31, f31), p32.concat(e32, f32), p33.concat(e33, f33), p34.concat(e34, f34)],
  [p41.concat(e41, f41), p42.concat(e42, f42), p43.concat(e43, f43), p44.concat(e44, f44)]
];

// ---------- styling ----------
const FONT = '"Liberation Sans", Arial, Helvetica, sans-serif';
const FS = 21.6;
const richAxis = {
  n: {fontSize: FS, fontFamily: FONT, color: '#000', lineHeight: 26},
  s: {fontSize: 15.5, fontFamily: FONT, color: '#000', padding: [10, 0, 0, 0]}
};
const richAnn = {
  n: {fontSize: FS, fontFamily: FONT, color: '#000', lineHeight: 26.8},
  s: {fontSize: 15.5, fontFamily: FONT, color: '#000', padding: [10, 0, 0, 0]}
};
const xName = '{n|SE( β}{s|21}{n| ) estimated in SEM}';
const yName = '{n|SE( β}{s|21}{n| ) estimated in Wald method}';

const grid = [], xAxis = [], yAxis = [], series = [], title = [];
for (let r = 0; r < 4; r++) {
  for (let c = 0; c < 4; c++) {
    const i = r * 4 + c;
    const wide = r < 2;
    const rng = wide ? rangeWide : rangeNarrow;
    const tl = wide ? tickLabelsWide : tickLabelsNarrow;
    const tm = wide ? tickMarksWide : tickMarksNarrow;
    const dec = wide ? 2 : 3;
    grid.push({left: 600 * c + 133, top: 600 * r + 26, width: 441, height: 441,
      show: true, borderColor: '#000', borderWidth: 2.2, backgroundColor: 'transparent'});
    const common = {
      gridIndex: i, type: 'value', min: rng[0], max: rng[1],
      axisLine: {show: false}, splitLine: {show: false},
      axisTick: {show: true, length: 14, lineStyle: {color: '#000', width: 2.2}, customValues: tm},
      nameLocation: 'middle', nameTextStyle: {rich: richAxis}
    };
    xAxis.push(Object.assign({}, common, {
      axisLabel: {show: true, customValues: tl, formatter: v => v.toFixed(dec), margin: 31,
        fontSize: FS, fontFamily: FONT, color: '#000'},
      name: xName, nameGap: 77
    }));
    yAxis.push(Object.assign({}, common, {
      axisLabel: {show: true, customValues: tl, formatter: v => v.toFixed(dec), margin: 24, rotate: 90,
        fontSize: FS, fontFamily: FONT, color: '#000'},
      name: yName, nameGap: 76
    }));
    series.push({type: 'scatter', xAxisIndex: i, yAxisIndex: i, data: panels[r][c],
      symbol: 'circle', symbolSize: 9.3, silent: true, z: 2, animation: false,
      itemStyle: {color: 'rgba(0,0,0,0)', borderColor: '#000', borderWidth: 2.9}});
    series.push({type: 'line', xAxisIndex: i, yAxisIndex: i,
      data: [[rng[0], rng[0]], [rng[1], rng[1]]], symbol: 'none', silent: true, z: 3, animation: false,
      lineStyle: {color: '#BEBEBE', width: 2, type: [11, 11]}});
    title.push({left: 600 * c + 169, top: 600 * r + 38, padding: 0,
      text: '{n|β}{s|21}{n| = ' + beta21[c] + '}\n{n|β}{s|12}{n| = ' + beta12[c] + '}\n{n|γ}{s|11}{n| = ' + gamma11[r] + '}\n{n|γ}{s|22}{n| = ' + gamma22[r] + '}',
      textStyle: {fontWeight: 'normal', fontSize: FS, fontFamily: FONT, color: '#000', lineHeight: 26.8, rich: richAnn}});
  }
}

const chart = echarts.init(document.getElementById('c'));
chart.setOption({backgroundColor: '#fff', animation: false, grid, xAxis, yAxis, series, title});
</script></body></html>
